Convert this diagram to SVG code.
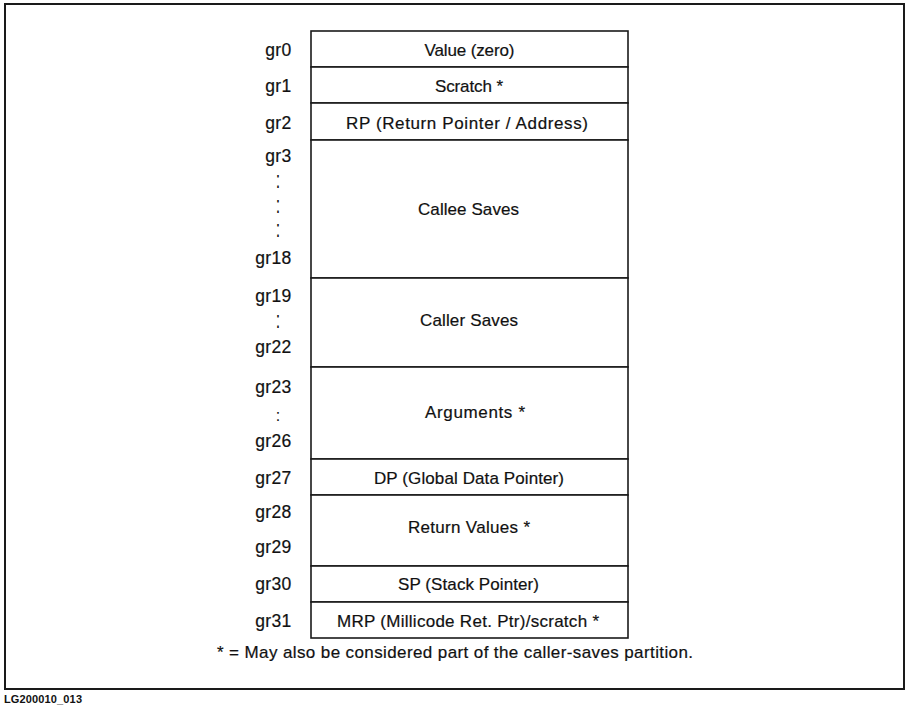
<svg xmlns="http://www.w3.org/2000/svg" width="906" height="706" viewBox="0 0 906 706">
<style>
  .bg{fill:#ffffff}
  .frame{fill:none;stroke:#1a1a1a;stroke-width:2}
  .cell{fill:#ffffff;stroke:#1a1a1a;stroke-width:1.6}
  .t{font-family:"Liberation Sans",Arial,Helvetica,sans-serif;font-size:17px;fill:#111111;stroke:#111111;stroke-width:0.2}
  .c{text-anchor:middle}
  .lab{font-family:"Liberation Sans",Arial,Helvetica,sans-serif;font-size:17.5px;fill:#111111;stroke:#111111;stroke-width:0.2;text-anchor:end;letter-spacing:0.3px}
  .dots{font-family:"Liberation Sans",Arial,Helvetica,sans-serif;font-size:16px;fill:#111111;text-anchor:middle}
  .id{font-family:"Liberation Sans",Arial,Helvetica,sans-serif;font-size:11px;font-weight:bold;fill:#111111}
</style>
<rect class="bg" x="0" y="0" width="906" height="706"/>
<rect class="frame" x="5" y="4" width="899" height="685"/>

<g id="row-gr0">
  <rect class="cell" x="311" y="31" width="317" height="36"/>
  <text class="lab" x="291.5" y="56">gr0</text>
  <text class="t c" x="469.5" y="56" textLength="90" lengthAdjust="spacing">Value (zero)</text>
</g>
<g id="row-gr1">
  <rect class="cell" x="311" y="67" width="317" height="36"/>
  <text class="lab" x="291.5" y="92">gr1</text>
  <text class="t c" x="469" y="92" textLength="68" lengthAdjust="spacing">Scratch *</text>
</g>
<g id="row-gr2">
  <rect class="cell" x="311" y="103" width="317" height="37"/>
  <text class="lab" x="291.5" y="128.5">gr2</text>
  <text class="t c" x="467" y="128.5" textLength="242" lengthAdjust="spacing">RP (Return Pointer / Address)</text>
</g>
<g id="row-callee">
  <rect class="cell" x="311" y="140" width="317" height="138"/>
  <text class="lab" x="291.5" y="162">gr3</text>
  <text class="dots" transform="translate(278 0) scale(1 1.5)"><tspan x="0" y="125.5">:</tspan><tspan x="0" y="142.2">:</tspan><tspan x="0" y="158.2">:</tspan></text>
  <text class="lab" x="291.5" y="264">gr18</text>
  <text class="t c" x="468.5" y="215" textLength="101" lengthAdjust="spacing">Callee Saves</text>
</g>
<g id="row-caller">
  <rect class="cell" x="311" y="278" width="317" height="89"/>
  <text class="lab" x="291.5" y="302">gr19</text>
  <text class="dots" transform="translate(278 0) scale(1 1.5)" x="0" y="218.5">:</text>
  <text class="lab" x="291.5" y="353">gr22</text>
  <text class="t c" x="469" y="326" textLength="98" lengthAdjust="spacing">Caller Saves</text>
</g>
<g id="row-arguments">
  <rect class="cell" x="311" y="367" width="317" height="92"/>
  <text class="lab" x="291.5" y="393">gr23</text>
  <text class="dots" x="278" y="421">:</text>
  <text class="lab" x="291.5" y="447">gr26</text>
  <text class="t" x="425" y="418" textLength="100" lengthAdjust="spacing">Arguments *</text>
</g>
<g id="row-gr27">
  <rect class="cell" x="311" y="459" width="317" height="36"/>
  <text class="lab" x="291.5" y="484">gr27</text>
  <text class="t c" x="469" y="484" textLength="190" lengthAdjust="spacing">DP (Global Data Pointer)</text>
</g>
<g id="row-return">
  <rect class="cell" x="311" y="495" width="317" height="71"/>
  <text class="lab" x="291.5" y="518">gr28</text>
  <text class="lab" x="291.5" y="553">gr29</text>
  <text class="t c" x="469" y="533" textLength="122" lengthAdjust="spacing">Return Values *</text>
</g>
<g id="row-gr30">
  <rect class="cell" x="311" y="566" width="317" height="36"/>
  <text class="lab" x="291.5" y="590">gr30</text>
  <text class="t c" x="468.5" y="590" textLength="141" lengthAdjust="spacing">SP (Stack Pointer)</text>
</g>
<g id="row-gr31">
  <rect class="cell" x="311" y="602" width="317" height="36"/>
  <text class="lab" x="291.5" y="627">gr31</text>
  <text class="t c" x="468" y="627" textLength="262" lengthAdjust="spacing">MRP (Millicode Ret. Ptr)/scratch *</text>
</g>

<g id="footnote">
  <text class="t" x="217" y="658" textLength="476" lengthAdjust="spacing">* =  May also be considered part of the caller-saves partition.</text>
</g>
<text class="id" x="4" y="703" textLength="78" lengthAdjust="spacing">LG200010_013</text>
</svg>
